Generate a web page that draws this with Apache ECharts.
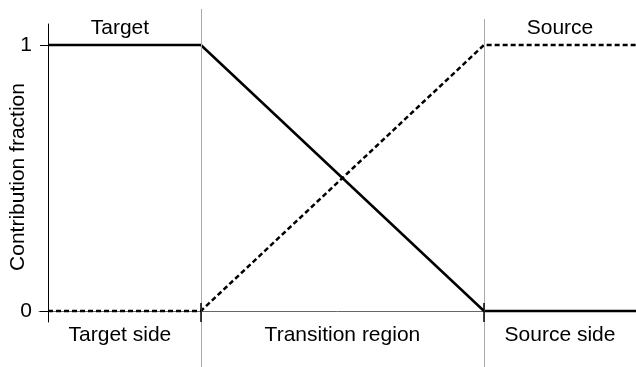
<!DOCTYPE html>
<html>
<head>
<meta charset="utf-8">
<script src="https://cdn.jsdelivr.net/npm/echarts@6/dist/echarts.min.js"></script>
<style>html,body{margin:0;padding:0;background:#fff}#c{width:636px;height:367px}</style>
</head>
<body>
<div id="c"></div>
<script>
// ---- data ----
const xMin = -1.53, xMax = 100;
const boundaries = [26, 74.15];
const topLabels = ['Target', 'Source'];
const bottomLabels = ['Target side', 'Transition region', 'Source side'];
const positionX = [0, 26, 74.15, 100];
const targetFraction = [1, 1, 0, 0];
const sourceFraction = [0, 0, 1, 1];
const yTicks = [0, 1];
const yMin = -0.0414, yMax = 1.0789;

// ---- derived ----
const bottomCenters = [(xMin + boundaries[0]) / 2, (boundaries[0] + boundaries[1]) / 2, (boundaries[1] + xMax) / 2];
const topCenters = [bottomCenters[0], bottomCenters[2]];
const pairs = ys => positionX.map((x, i) => [x, ys[i]]);
const FONT = 'Liberation Sans, Arial, Helvetica, sans-serif';
const FS = 21;

const chart = echarts.init(document.getElementById('c'), null, {renderer: 'canvas'});
chart.setOption({
  animation: false,
  backgroundColor: '#fff',
  textStyle: {fontFamily: FONT},
  grid: [
    {left: 39, right: 0, top: 9, bottom: 0, containLabel: false, outerBoundsMode: 'none'},
    {left: 39, right: 0, top: 24, bottom: 45, containLabel: false, outerBoundsMode: 'none'}
  ],
  xAxis: [
    {
      gridIndex: 0, type: 'value', min: xMin, max: xMax, position: 'top',
      axisLine: {show: false}, axisTick: {show: false}, splitLine: {show: false},
      axisLabel: {
        inside: true, margin: 9, fontSize: FS, color: '#000', fontFamily: FONT,
        customValues: topCenters,
        formatter: v => topLabels[topCenters.indexOf(v)] || ''
      }
    },
    {
      gridIndex: 1, type: 'value', min: xMin, max: xMax,
      axisLine: {show: true, onZero: true, lineStyle: {color: '#666', width: 1}},
      axisTick: {show: false}, splitLine: {show: false},
      axisLabel: {
        margin: 3, fontSize: FS, color: '#000', fontFamily: FONT,
        customValues: bottomCenters,
        formatter: v => bottomLabels[bottomCenters.indexOf(v)] || ''
      }
    }
  ],
  yAxis: [
    {
      gridIndex: 0, type: 'value', min: 0, max: 1, show: false
    },
    {
      gridIndex: 1, type: 'value', min: yMin, max: yMax,
      name: 'Contribution fraction', nameLocation: 'middle', nameGap: 10, nameMoveOverlap: false,
      nameTextStyle: {fontSize: FS, color: '#000', fontFamily: FONT, padding: [0, 8, 0, 0]},
      axisLine: {show: true, onZero: true, lineStyle: {color: '#000', width: 1}},
      axisTick: {show: true, length: 8, customValues: yTicks, lineStyle: {color: '#000', width: 1}},
      splitLine: {show: false},
      axisLabel: {margin: 7, fontSize: FS, color: '#000', fontFamily: FONT, customValues: yTicks}
    }
  ],
  series: [
    {
      type: 'line', xAxisIndex: 0, yAxisIndex: 0, data: [], silent: true,
      markLine: {
        silent: true, symbol: 'none', label: {show: false},
        lineStyle: {color: '#aaa', width: 1, type: 'solid'},
        data: [
          [{coord: [boundaries[0], 0]}, {coord: [boundaries[0], 1]}],
          [{coord: [boundaries[1], 0]}, {coord: [boundaries[1], 0.972]}]
        ]
      }
    },
    {
      name: 'Target', type: 'line', xAxisIndex: 1, yAxisIndex: 1,
      data: pairs(targetFraction), showSymbol: false, symbol: 'none',
      lineStyle: {color: '#000', width: 2.5, type: 'solid'},
      markLine: {
        silent: true, symbol: 'none', label: {show: false},
        lineStyle: {color: '#000', width: 1.5, type: 'solid'},
        data: boundaries.map(b => [{coord: [b, yMin]}, {coord: [b, 0.03]}])
      }
    },
    {
      name: 'Source', type: 'line', xAxisIndex: 1, yAxisIndex: 1,
      data: pairs(sourceFraction), showSymbol: false, symbol: 'none',
      lineStyle: {color: '#000', width: 2.5, type: [5, 3]}
    }
  ]
});
</script>
</body>
</html>
